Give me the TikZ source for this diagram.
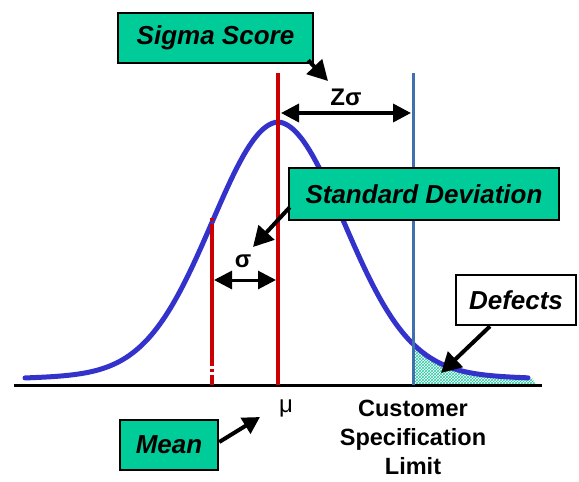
\documentclass[tikz,border=0pt]{standalone}
\usepackage{fontspec}
\setmainfont{Liberation Sans}
\usetikzlibrary{patterns,arrows.meta}
\definecolor{boxgreen}{RGB}{0,204,153}
\definecolor{curveblue}{RGB}{51,51,204}
\definecolor{meanred}{RGB}{204,0,0}
\definecolor{specblue}{RGB}{64,112,176}
\definecolor{hatchcol}{RGB}{40,200,160}
\begin{document}
\begin{tikzpicture}[x=1pt,y=-1pt,
  declare function={bell(\x)=245*exp(-((\x-278)/66)*((\x-278)/66)/2)+18*exp(-abs(\x-278)/264);},
  lbox/.style={draw=black,line width=2.5pt,fill=boxgreen,inner sep=0pt,
    font=\fontsize{26}{30}\selectfont\bfseries\itshape},
  conn/.style={line width=4pt,-{Triangle[length=20pt,width=21pt]}},
  dbl/.style={line width=3.5pt,{Triangle[length=18pt,width=18pt]}-{Triangle[length=18pt,width=18pt]}},
  redln/.style={meanred,line width=4.5pt},
  plain/.style={inner sep=0pt,font=\fontsize{24}{28}\selectfont\bfseries}]
\useasboundingbox (0,0) rectangle (579,482);
% hatched defects
\fill[pattern=crosshatch,pattern color=hatchcol] (413,385) -- plot[domain=413:532,samples=40] (\x,{385-bell(\x)}) -- (536,385) -- cycle;
% axis
\coordinate (axl) at (14,385);
\coordinate (axr) at (542,385);
\draw[line width=3pt] (axl) -- (axr);
% bell curve
\draw[curveblue,line width=5pt,line join=round,line cap=round] plot[domain=25:528,samples=160] (\x,{385-bell(\x)});
% mean line
\coordinate (mtop) at (278,73);
\coordinate (mbot) at (278,385);
\draw[redln] (mtop) -- (mbot);
% one sigma line (broken)
\draw[meanred,line width=3.5pt] (212,218) -- (212,221) (212,224) -- (212,366) (212,369) -- (212,372) (212,375) -- (212,385);
% spec limit line
\coordinate (stop) at (413,73);
\coordinate (sbot) at (413,385);
\draw[specblue,line width=3pt] (stop) -- (sbot);
% Z sigma arrow
\coordinate (zl) at (281,113);
\coordinate (zr) at (411,113);
\draw[dbl] (zl) -- (zr);
\node[plain] (zlab) at (346,97) {Zσ};
% sigma arrow
\coordinate (sl) at (214,280);
\coordinate (sr) at (276,280);
\draw[dbl,line width=3pt] (sl) -- (sr);
\node[plain] (slab) at (243,261) {σ};
% boxes
\node[lbox,minimum width=195pt,minimum height=50pt] (sig) at (215.5,38) {Sigma Score};
\node[lbox,minimum width=270pt,minimum height=52pt] (sd) at (424,194) {Standard Deviation};
\node[lbox,fill=white,minimum width=120pt,minimum height=50pt] (def) at (516,300) {Defects};
\node[lbox,minimum width=98pt,minimum height=50pt] (mean) at (169,445) {Mean};
% labels
\node[inner sep=0pt,font=\fontsize{24}{28}\selectfont] (mu) at (286,408) {μ};
\node[inner sep=0pt,align=center,font=\fontsize{23.5}{29}\selectfont\bfseries] (csl) at (413,437) {Customer\\Specification\\Limit};
% pointer arrows
\coordinate (sigtip) at (328,81);
\draw[conn] ([xshift=-6pt,yshift=4pt]sig.south east) -- (sigtip);
\coordinate (sdtip) at (253,247);
\draw[conn] ([xshift=2pt,yshift=14pt]sd.south west) -- (sdtip);
\coordinate (deftip) at (441,373);
\draw[conn] ([xshift=-26pt]def.south) -- (deftip);
\coordinate (meantip) at (260,417);
\draw[conn,-{Triangle[length=17pt,width=18pt]}] ([yshift=3pt]mean.east) -- (meantip);
\end{tikzpicture}
\end{document}
